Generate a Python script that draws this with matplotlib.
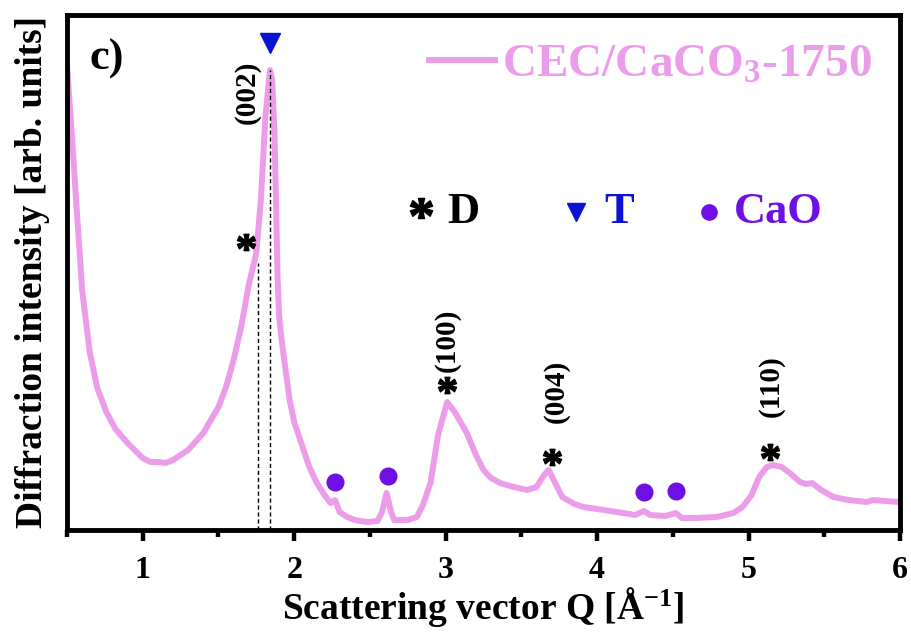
import matplotlib
matplotlib.use('Agg')
import matplotlib.pyplot as plt
from matplotlib.ticker import MultipleLocator

plt.rcParams['font.family'] = ['Liberation Serif', 'DejaVu Serif']
plt.rcParams['font.weight'] = 'bold'
plt.rcParams['axes.labelweight'] = 'bold'
plt.rcParams['mathtext.fontset'] = 'custom'
plt.rcParams['mathtext.rm'] = 'Liberation Serif:bold'
plt.rcParams['mathtext.bf'] = 'Liberation Serif:bold'
plt.rcParams['mathtext.default'] = 'bf'

# Daten
q = [0.50, 0.53, 0.56, 0.60, 0.65, 0.70, 0.76, 0.82, 0.90, 1.00, 1.05, 1.10,
     1.15, 1.20, 1.30, 1.40, 1.50, 1.55, 1.60, 1.65, 1.70, 1.75, 1.78, 1.81,
     1.84, 1.855, 1.87, 1.88, 1.89, 1.90, 1.915, 1.93, 1.97, 2.00, 2.04, 2.10,
     2.15, 2.20, 2.24, 2.27, 2.30, 2.35, 2.40, 2.48, 2.55, 2.58, 2.61, 2.64,
     2.66, 2.75, 2.81, 2.85, 2.90, 2.95, 3.01, 3.06, 3.14, 3.20, 3.25, 3.30,
     3.36, 3.45, 3.54, 3.60, 3.65, 3.68, 3.72, 3.77, 3.85, 3.91, 4.00, 4.13,
     4.25, 4.31, 4.35, 4.45, 4.52, 4.56, 4.65, 4.79, 4.90, 4.96, 5.02, 5.07,
     5.12, 5.16, 5.22, 5.28, 5.34, 5.38, 5.42, 5.48, 5.56, 5.66, 5.78, 5.82,
     5.90, 6.00]
intensity = [465, 400, 330, 240, 178, 142, 118, 101, 87, 72, 68, 68,
             67, 70, 80, 97, 123, 143, 170, 203, 245, 277, 330, 413,
             460, 450, 397, 330, 255, 215, 193, 175, 130, 108, 90, 63,
             47, 35, 27, 30, 18, 13, 10, 8, 9, 18, 37, 18,
             10, 10, 13, 25, 47, 95, 128, 118, 97, 75, 60, 52,
             47, 43, 40, 43, 55, 60, 48, 33, 26, 23, 21, 18,
             15, 19, 15, 14, 17, 12, 12, 13, 17, 23, 35, 53,
             63, 65, 63, 56, 48, 46, 47, 40, 33, 30, 28, 30,
             29, 28]

dash_q = [1.76, 1.84]
dash_top = [267, 460]

d_q = [1.68, 3.01, 3.70, 5.14]
d_y = [288, 145, 73, 78]
t_q = [1.84]
t_y = [487]
cao_q = [2.27, 2.62, 4.31, 4.52]
cao_y = [48, 54, 38, 39]

hkl = ['(002)', '(100)', '(004)', '(110)']
hkl_q = [1.69, 3.01, 3.73, 5.15]
hkl_y = [438, 190, 139, 144]

pink = '#EC9DE9'
purple = '#6E10E4'
blue = '#0A14D2'

fig = plt.figure(figsize=(9.11, 6.33), dpi=100)
ax = fig.add_axes([67/911, 1-530/633, 833/911, 515/633])

ax.plot(q, intensity, color=pink, lw=4.3, solid_joinstyle='round',
        label='CEC/CaCO$_3$-1750')
for xq, top in zip(dash_q, dash_top):
    ax.plot([xq, xq], [0, top], color='black', lw=1, ls=(0, (3, 2)))

ax.plot(d_q, d_y, ls='none', marker='$*$', ms=13, color='black')
ax.plot(t_q, t_y, ls='none', marker='v', ms=14, color=blue)
ax.plot(cao_q, cao_y, ls='none', marker='o', ms=12, color=purple)

for lab, xq, yv in zip(hkl, hkl_q, hkl_y):
    ax.text(xq, yv, lab, rotation=90, ha='center', va='center', fontsize=21)

# Legende der Phasen
ax.plot([2.84], [322], ls='none', marker='$*$', ms=16, color='black')
ax.text(3.01, 307, 'D', fontsize=32, ha='left', va='baseline')
ax.plot([3.86], [318], ls='none', marker='v', ms=13, color=blue)
ax.text(4.05, 307, 'T', fontsize=32, ha='left', va='baseline', color=blue)
ax.plot([4.74], [318], ls='none', marker='o', ms=11, color=purple)
ax.text(4.90, 307, 'CaO', fontsize=32, ha='left', va='baseline', color=purple)

ax.text(0.65, 471, 'c)', fontsize=32, ha='left', va='center')

leg = ax.legend(loc='upper right', frameon=False, fontsize=34, handlelength=1.4,
                handletextpad=0.15, borderaxespad=0.2, bbox_to_anchor=(1.0, 1.0))
for t in leg.get_texts():
    t.set_color(pink)

ax.set_xlim(0.5, 6)
ax.set_ylim(0, 515)
ax.set_yticks([])
ax.xaxis.set_major_locator(MultipleLocator(1))
ax.xaxis.set_minor_locator(MultipleLocator(0.5))
ax.tick_params(axis='x', which='major', direction='out', length=8, width=3.2,
               labelsize=23, pad=11)
ax.tick_params(axis='x', which='minor', direction='out', length=5, width=3.2)
for s in ax.spines.values():
    s.set_linewidth(3.5)

ax.set_xlabel('Scattering vector Q [Å$^{-1}$]', fontsize=27, labelpad=0)
ax.set_ylabel('Diffraction intensity [arb. units]', fontsize=27, labelpad=12)

fig.savefig('out.png', dpi=100)
